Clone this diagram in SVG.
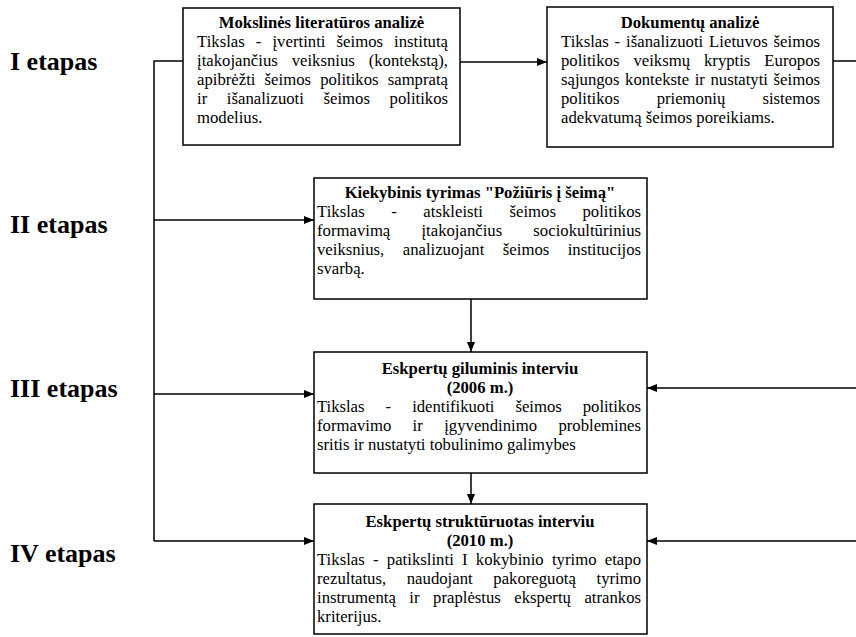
<svg xmlns="http://www.w3.org/2000/svg" width="856" height="637" viewBox="0 0 856 637">
<style>
.bx{fill:#fff;stroke:#000;stroke-width:1.5}
.t{font-family:"Liberation Serif","Times New Roman",serif;font-size:16.7px;fill:#000}
.b{font-weight:bold;text-anchor:middle}
.lab{font-family:"Liberation Serif","Times New Roman",serif;font-size:26px;font-weight:bold;fill:#000}
.ln{fill:none;stroke:#000;stroke-width:1.5}
</style>
<defs>
<marker id="ah" viewBox="0 0 10 10" refX="10" refY="5" markerWidth="10" markerHeight="10" markerUnits="userSpaceOnUse" orient="auto">
<path d="M0,1 L10,5 L0,9 Z" fill="#000"/>
</marker>
</defs>
<rect width="856" height="637" fill="#fff"/>
<g id="labels">
<text class="lab" x="10" y="70">I etapas</text>
<text class="lab" x="10" y="233">II etapas</text>
<text class="lab" x="10" y="397">III etapas</text>
<text class="lab" x="10" y="562">IV etapas</text>
</g>
<g id="connectors">
<polyline class="ln" points="183,61 154,61 154,541"/>
<line class="ln" x1="154" y1="220" x2="314" y2="220" marker-end="url(#ah)"/>
<line class="ln" x1="154" y1="394" x2="314" y2="394" marker-end="url(#ah)"/>
<line class="ln" x1="154" y1="541" x2="314" y2="541" marker-end="url(#ah)"/>
<line class="ln" x1="460" y1="62" x2="547" y2="62" marker-end="url(#ah)"/>
<line class="ln" x1="833" y1="61" x2="856" y2="61"/>
<line class="ln" x1="471" y1="299" x2="471" y2="352" marker-end="url(#ah)"/>
<line class="ln" x1="471" y1="473" x2="471" y2="504" marker-end="url(#ah)"/>
<line class="ln" x1="856" y1="388" x2="647" y2="388" marker-end="url(#ah)"/>
<line class="ln" x1="856" y1="541" x2="647" y2="541" marker-end="url(#ah)"/>
</g>
<g id="box1">
<rect class="bx" x="183" y="8" width="277" height="137"/>
<text class="t b" x="321.5" y="28">Mokslinės literatūros analizė</text>
<text class="t" x="197" y="47" word-spacing="6.85" textLength="251" lengthAdjust="spacing">Tikslas - įvertinti šeimos institutą</text>
<text class="t" x="197" y="66" word-spacing="9.75" textLength="251" lengthAdjust="spacing">įtakojančius veiksnius (kontekstą),</text>
<text class="t" x="197" y="85" word-spacing="4.97" textLength="251" lengthAdjust="spacing">apibrėžti šeimos politikos sampratą</text>
<text class="t" x="197" y="104" word-spacing="15.5" textLength="251" lengthAdjust="spacing">ir išanalizuoti šeimos politikos</text>
<text class="t" x="197" y="123">modelius.</text>
</g>
<g id="box2">
<rect class="bx" x="547" y="7" width="286" height="140"/>
<text class="t b" x="690" y="28">Dokumentų analizė</text>
<text class="t" x="561" y="47" word-spacing="1.65" textLength="259" lengthAdjust="spacing">Tikslas - išanalizuoti Lietuvos šeimos</text>
<text class="t" x="561" y="66" word-spacing="9.8" textLength="259" lengthAdjust="spacing">politikos veiksmų kryptis Europos</text>
<text class="t" x="561" y="85" word-spacing="1.4" textLength="259" lengthAdjust="spacing">sąjungos kontekste ir nustatyti šeimos</text>
<text class="t" x="561" y="104" word-spacing="33" textLength="259" lengthAdjust="spacing">politikos priemonių sistemos</text>
<text class="t" x="561" y="123">adekvatumą šeimos poreikiams.</text>
</g>
<g id="box3">
<rect class="bx" x="314" y="178" width="333" height="121"/>
<text class="t b" x="480" y="198">Kiekybinis tyrimas "Požiūris į šeimą"</text>
<text class="t" x="317" y="217" word-spacing="22.3" textLength="324" lengthAdjust="spacing">Tikslas - atskleisti šeimos politikos</text>
<text class="t" x="317" y="236" word-spacing="27" textLength="324" lengthAdjust="spacing">formavimą įtakojančius sociokultūrinius</text>
<text class="t" x="317" y="255" word-spacing="14.3" textLength="324" lengthAdjust="spacing">veiksnius, analizuojant šeimos institucijos</text>
<text class="t" x="317" y="274">svarbą.</text>
</g>
<g id="box4">
<rect class="bx" x="314" y="352" width="333" height="121"/>
<text class="t b" x="480" y="374">Eskpertų giluminis interviu</text>
<text class="t b" x="480" y="393">(2006 m.)</text>
<text class="t" x="317" y="412" word-spacing="16.9" textLength="324" lengthAdjust="spacing">Tikslas - identifikuoti šeimos politikos</text>
<text class="t" x="317" y="431" word-spacing="17.2" textLength="324" lengthAdjust="spacing">formavimo ir įgyvendinimo problemines</text>
<text class="t" x="317" y="450">sritis ir nustatyti tobulinimo galimybes</text>
</g>
<g id="box5">
<rect class="bx" x="314" y="504" width="333" height="130"/>
<text class="t b" x="480" y="527">Eskpertų struktūruotas interviu</text>
<text class="t b" x="480" y="546">(2010 m.)</text>
<text class="t" x="317" y="565" word-spacing="4.05" textLength="324" lengthAdjust="spacing">Tikslas - patikslinti I kokybinio tyrimo etapo</text>
<text class="t" x="317" y="584" word-spacing="16.5" textLength="324" lengthAdjust="spacing">rezultatus, naudojant pakoreguotą tyrimo</text>
<text class="t" x="317" y="603" word-spacing="9.35" textLength="324" lengthAdjust="spacing">instrumentą ir praplėstus ekspertų atrankos</text>
<text class="t" x="317" y="622">kriterijus.</text>
</g>
</svg>
